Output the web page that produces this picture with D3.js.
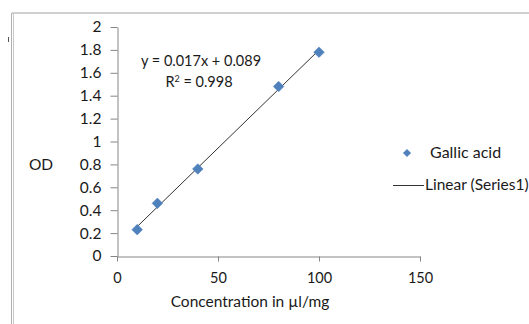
<!DOCTYPE html>
<html>
<head>
<meta charset="utf-8">
<script src="https://cdn.jsdelivr.net/npm/d3@7"></script>
<style>
  body { margin: 0; background: #fff; }
  text { font-family: Lato, "Open Sans", sans-serif; fill: #1a1a1a; }
</style>
</head>
<body>
<svg id="chart" width="529" height="324"></svg>
<script>
// data
var concentration = [10, 20, 40, 80, 100];
var od = [0.23, 0.46, 0.76, 1.48, 1.78];
var yTicks = [0, 0.2, 0.4, 0.6, 0.8, 1, 1.2, 1.4, 1.6, 1.8, 2];
var xTicks = [0, 50, 100, 150];
var equationText = "y = 0.017x + 0.089";
var r2Value = "0.998";
var seriesName = "Gallic acid";
var trendName = "Linear (Series1)";

var svg = d3.select("#chart");
var margin = { top: 27, bottom: 68, left: 117, right: 109 };
var width = 529, height = 324;
var fontSize = "15.5px";

var x = d3.scaleLinear().domain([0, 150]).range([margin.left, width - margin.right]);
var y = d3.scaleLinear().domain([0, 2]).range([height - margin.bottom, margin.top]);

// outer frame bits
svg.append("line").attr("x1", 12).attr("y1", 13).attr("x2", width).attr("y2", 13)
  .style("stroke", "#a0a0a0").style("stroke-width", "1px");
svg.append("line").attr("x1", 11.5).attr("y1", 13).attr("x2", 11.5).attr("y2", height)
  .style("stroke", "#b0b0b0").style("stroke-width", "1px");
svg.append("line").attr("x1", 13.5).attr("y1", 13).attr("x2", 13.5).attr("y2", height)
  .style("stroke", "#c8c8c8").style("stroke-width", "1px");
svg.append("line").attr("x1", 8.5).attr("y1", 37).attr("x2", 8.5).attr("y2", 42)
  .style("stroke", "#555").style("stroke-width", "1px");

// y axis
var yAxis = svg.append("g")
  .attr("transform", "translate(" + (margin.left + 0.5) + ",0)")
  .call(d3.axisLeft(y).tickValues(yTicks).tickSize(7).tickPadding(9).tickSizeOuter(0)
    .tickFormat(function(d) { return d3.format("~g")(d); }));
yAxis.selectAll("path, line").style("stroke", "#868686");
yAxis.selectAll("text").style("font-size", fontSize).style("font-family", "Lato, sans-serif").attr("fill", "#1a1a1a");

// x axis
var xAxis = svg.append("g")
  .attr("transform", "translate(0," + (y(0) + 0.5) + ")")
  .call(d3.axisBottom(x).tickValues(xTicks).tickSize(5).tickPadding(11).tickSizeOuter(0));
xAxis.selectAll("path, line").style("stroke", "#868686");
xAxis.selectAll("text").style("font-size", "14.5px").style("font-family", "Lato, sans-serif").attr("fill", "#1a1a1a");

// axis titles
svg.append("text").attr("x", 41).attr("y", 170).attr("text-anchor", "middle")
  .style("font-size", fontSize).text("OD");
svg.append("text").attr("x", 250).attr("y", 307).attr("text-anchor", "middle")
  .style("font-size", fontSize).text("Concentration in \u00b5l/mg");

// least squares trend line
var mx = d3.mean(concentration), my = d3.mean(od);
var sxy = d3.sum(concentration, function(d, i) { return (d - mx) * (od[i] - my); });
var sxx = d3.sum(concentration, function(d) { return (d - mx) * (d - mx); });
var slope = sxy / sxx, intercept = my - slope * mx;
var xExtent = d3.extent(concentration);

svg.append("line")
  .attr("x1", x(xExtent[0])).attr("y1", y(slope * xExtent[0] + intercept))
  .attr("x2", x(xExtent[1])).attr("y2", y(slope * xExtent[1] + intercept))
  .style("stroke", "#333").style("stroke-width", "1px");

// markers
var diamond = d3.symbol().type(d3.symbolDiamond2).size(72);
svg.append("g").selectAll("path")
  .data(concentration)
  .enter().append("path")
  .attr("d", diamond)
  .attr("transform", function(d, i) { return "translate(" + x(d) + "," + y(od[i]) + ")"; })
  .style("fill", "#4f81bd")
  .style("stroke", "#4a7ab3").style("stroke-width", "0.5px");

// equation
svg.append("text").attr("x", 201).attr("y", 66).attr("text-anchor", "middle")
  .style("font-size", "14.5px").text(equationText);
var r2 = svg.append("text").attr("x", 199).attr("y", 87).attr("text-anchor", "middle")
  .style("font-size", "14.5px");
r2.append("tspan").text("R");
r2.append("tspan").attr("dy", -5).style("font-size", "9px").text("2");
r2.append("tspan").attr("dy", 5).text(" = " + r2Value);

// legend
svg.append("path").attr("d", d3.symbol().type(d3.symbolDiamond2).size(42))
  .attr("transform", "translate(407,153)").style("fill", "#4f81bd");
svg.append("text").attr("x", 430).attr("y", 158).style("font-size", "16px").text(seriesName);
svg.append("line").attr("x1", 393).attr("y1", 185.5).attr("x2", 424).attr("y2", 185.5)
  .style("stroke", "#333").style("stroke-width", "1px");
svg.append("text").attr("x", 425).attr("y", 190).style("font-size", fontSize).text(trendName);
</script>
</body>
</html>
